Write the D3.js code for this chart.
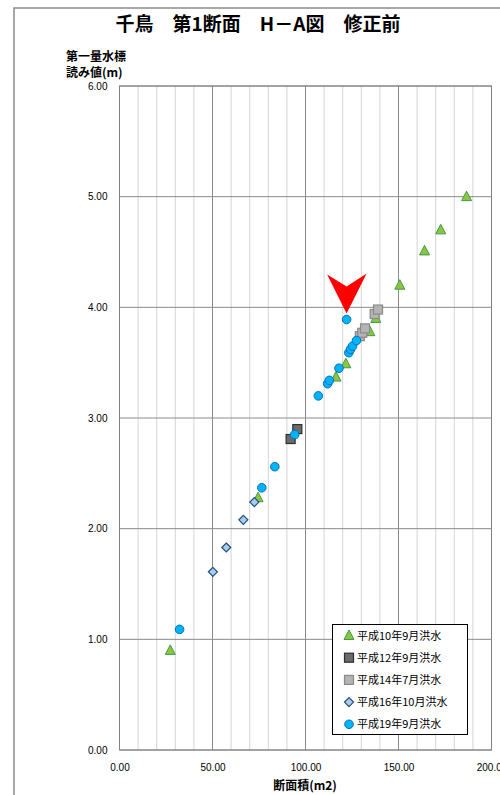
<!DOCTYPE html>
<html><head><meta charset="utf-8">
<script src="https://cdn.jsdelivr.net/npm/d3@7"></script>
<style>body{margin:0;background:#fff;overflow:hidden}svg{display:block}</style>
</head><body>
<script>
const title = "千鳥　第1断面　H－A図　修正前";
const yTitle = ["第一量水標", "読み値(m)"];
const xTitle = "断面積(m2)";
const xTicks = [0, 50, 100, 150, 200];
const yTicks = [0, 1, 2, 3, 4, 5, 6];
const seriesNames = ["平成10年9月洪水", "平成12年9月洪水", "平成14年7月洪水", "平成16年10月洪水", "平成19年9月洪水"];
const h10 = [[27.3,0.90],[74.5,2.28],[116.4,3.37],[121.7,3.49],[134.6,3.78],[137.8,3.90],[150.7,4.20],[164.0,4.51],[172.7,4.70],[186.6,5.00]];
const h12 = [[92.0,2.81],[95.6,2.90]];
const h14 = [[129.2,3.74],[130.5,3.77],[132.0,3.81],[137.2,3.94],[139.0,3.98]];
const h16 = [[50.2,1.61],[57.4,1.83],[66.6,2.08],[72.5,2.24]];
const h19 = [[32.3,1.09],[76.5,2.37],[83.5,2.56],[94.2,2.85],[106.9,3.20],[111.9,3.31],[112.8,3.34],[118.0,3.45],[123.3,3.59],[124.2,3.62],[125.3,3.65],[127.4,3.70],[122.1,3.89]];
const arrowTarget = [122.1, 3.89];

const W = 500, H = 795;
const svg = d3.select("body").append("svg").attr("width", W).attr("height", H);
const jp = "'Noto Sans CJK JP', sans-serif";
const num = "'Liberation Sans', Arial, sans-serif";

// outer frame
svg.append("rect").attr("x", 14).attr("y", 8).attr("width", 700).attr("height", 900)
  .attr("fill", "#fff").attr("stroke", "#8c8c8c").attr("stroke-width", 1.5);

const x = d3.scaleLinear().domain([0, 200]).range([119.5, 491.5]);
const y = d3.scaleLinear().domain([0, 6]).range([750, 86]);

// minor vertical grid
const g = svg.append("g");
d3.range(0, 201, 10).forEach(v => {
  const major = v % 50 === 0;
  g.append("line").attr("x1", x(v)).attr("x2", x(v)).attr("y1", y(0)).attr("y2", y(6))
    .attr("stroke", major ? "#8a8a8a" : "#d4d4d4").attr("stroke-width", 1);
});
yTicks.forEach(v => {
  g.append("line").attr("x1", x(0)).attr("x2", x(200)).attr("y1", y(v)).attr("y2", y(v))
    .attr("stroke", "#8a8a8a").attr("stroke-width", 1);
});
svg.append("rect").attr("x", x(0)).attr("y", y(6)).attr("width", x(200) - x(0)).attr("height", y(0) - y(6))
  .attr("fill", "none").attr("stroke", "#808080").attr("stroke-width", 1);

// axes labels
const xAxis = svg.append("g").attr("transform", `translate(0,${y(0)})`)
  .call(d3.axisBottom(x).tickValues(xTicks).tickFormat(d3.format(".2f")).tickSize(0).tickPadding(14));
xAxis.select(".domain").remove();
xAxis.selectAll("text").attr("font-family", num).attr("font-size", 10).attr("fill", "#000");
const yAxis = svg.append("g").attr("transform", `translate(${x(0)},0)`)
  .call(d3.axisLeft(y).tickValues(yTicks).tickFormat(d3.format(".2f")).tickSize(0).tickPadding(12));
yAxis.select(".domain").remove();
yAxis.selectAll("text").attr("font-family", num).attr("font-size", 10).attr("fill", "#000");

// titles
svg.append("text").attr("x", 258).attr("y", 31).attr("text-anchor", "middle")
  .attr("font-family", jp).attr("font-weight", "bold").attr("font-size", 19).text(title);
yTitle.forEach((t, i) => svg.append("text").attr("x", 66).attr("y", 61 + i * 16)
  .attr("font-family", jp).attr("font-weight", "bold").attr("font-size", 12).text(t));
svg.append("text").attr("x", 305).attr("y", 790).attr("text-anchor", "middle")
  .attr("font-family", jp).attr("font-weight", "bold").attr("font-size", 12).text(xTitle);

// markers
const styles = [
  {type: "tri", fill: "#8cc63f", stroke: "#3e9a4a"},
  {type: "sq", fill: "#6b6b6b", stroke: "#2e2e2e"},
  {type: "sq", fill: "#b4b4b4", stroke: "#8a8a8a"},
  {type: "dia", fill: "#a9ccf0", stroke: "#1f4e79"},
  {type: "circ", fill: "#00b4f5", stroke: "#0a6fc2"}
];
function marker(sel, st, cx, cy) {
  if (st.type === "tri") {
    sel.append("path").attr("d", `M${cx},${cy-5.5}L${cx+5},${cy+4}L${cx-5},${cy+4}Z`)
      .attr("fill", st.fill).attr("stroke", st.stroke).attr("stroke-width", 1);
  } else if (st.type === "sq") {
    sel.append("rect").attr("x", cx-4.5).attr("y", cy-4.5).attr("width", 9).attr("height", 9)
      .attr("fill", st.fill).attr("stroke", st.stroke).attr("stroke-width", 1.2);
  } else if (st.type === "dia") {
    sel.append("path").attr("d", `M${cx},${cy-4.5}L${cx+4.5},${cy}L${cx},${cy+4.5}L${cx-4.5},${cy}Z`)
      .attr("fill", st.fill).attr("stroke", st.stroke).attr("stroke-width", 1.2);
  } else {
    sel.append("circle").attr("cx", cx).attr("cy", cy).attr("r", 4.3)
      .attr("fill", st.fill).attr("stroke", st.stroke).attr("stroke-width", 1);
  }
}
const all = [h10, h12, h14, h16, h19];
const order = [0, 2, 1, 3, 4];
order.forEach(i => {
  const gg = svg.append("g");
  all[i].forEach(d => marker(gg, styles[i], x(d[0]), y(d[1])));
});

// red arrow
const ax = x(arrowTarget[0]), ay = y(arrowTarget[1]);
svg.append("path").attr("d", `M${ax},${ay-6}L${ax-19.5},${ay-45}L${ax},${ay-33}L${ax+20},${ay-46}Z`)
  .attr("fill", "#ff0000");

// legend
const lg = svg.append("g");
lg.append("rect").attr("x", 332.5).attr("y", 624.5).attr("width", 135).attr("height", 110)
  .attr("fill", "#fff").attr("stroke", "#000").attr("stroke-width", 1);
seriesNames.forEach((n, i) => {
  const cy = 635.5 + i * 22.2;
  marker(lg, styles[i], 349, cy);
  lg.append("text").attr("x", 357).attr("y", cy + 4).attr("font-family", jp)
    .attr("font-size", 11).text(n);
});
</script>
</body></html>
